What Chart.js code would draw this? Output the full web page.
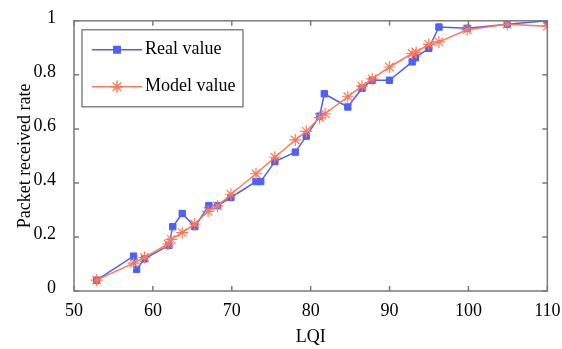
<!DOCTYPE html>
<html>
<head>
<meta charset="utf-8">
<script src="https://cdn.jsdelivr.net/npm/chart.js@4/dist/chart.umd.min.js"></script>
<style>
html, body { margin: 0; padding: 0; background: #fff; }
#wrap { width: 562px; height: 349px; }
</style>
</head>
<body>
<div id="wrap"><canvas id="myChart" width="562" height="349"></canvas></div>
<script>
// real measured values
var realX = [52.87, 57.55, 57.94, 58.94, 62.03, 62.52, 63.72, 65.31, 67.1, 68.2, 69.89, 73.07, 73.67, 75.46, 78.05, 79.44, 81.13, 81.73, 84.71, 86.51, 87.8, 89.99, 92.87, 93.27, 94.97, 96.26, 99.84, 104.92, 110];
var realY = [0.04, 0.129, 0.08, 0.119, 0.169, 0.238, 0.287, 0.238, 0.316, 0.316, 0.346, 0.405, 0.405, 0.479, 0.514, 0.573, 0.647, 0.73, 0.681, 0.75, 0.78, 0.78, 0.848, 0.863, 0.898, 0.977, 0.972, 0.987, 1.0];

// model values
var modelX = [52.87, 57.55, 58.94, 61.93, 62.33, 63.72, 65.31, 67.0, 68.2, 69.89, 73.07, 75.46, 78.05, 79.44, 81.13, 81.83, 84.71, 86.51, 87.8, 89.99, 92.87, 93.37, 94.97, 96.26, 99.84, 104.92, 110];
var modelY = [0.04, 0.103, 0.124, 0.174, 0.191, 0.216, 0.248, 0.295, 0.315, 0.358, 0.434, 0.495, 0.559, 0.591, 0.642, 0.656, 0.719, 0.758, 0.785, 0.829, 0.879, 0.883, 0.913, 0.922, 0.967, 0.987, 0.98];

var seriesNames = ["Real value", "Model value"];
var xTicks = [50, 60, 70, 80, 90, 100, 110];
var yTicks = [0, 0.2, 0.4, 0.6, 0.8, 1];

var blue = '#4d61f6';
var orange = '#ff7759';
var fontFam = '"Liberation Serif", "Times New Roman", serif';

function toPoints(xs, ys) {
    var pts = [];
    for (var i = 0; i < xs.length; i++) {
        pts.push({x: xs[i], y: ys[i]});
    }
    return pts;
}

// frame, inward ticks and boxed legend
var framePlugin = {
    id: 'frame',
    afterDraw: function(chart) {
        var ctx = chart.ctx;
        var a = chart.chartArea;
        var xs = chart.scales.x, ys = chart.scales.y;
        ctx.save();
        ctx.strokeStyle = '#7a7a7a';
        ctx.lineWidth = 1.5;
        ctx.strokeRect(a.left, a.top, a.right - a.left, a.bottom - a.top);
        ctx.beginPath();
        xTicks.forEach(function(v) {
            var px = xs.getPixelForValue(v);
            ctx.moveTo(px, a.bottom); ctx.lineTo(px, a.bottom - 5);
            ctx.moveTo(px, a.top); ctx.lineTo(px, a.top + 5);
        });
        yTicks.forEach(function(v) {
            var py = ys.getPixelForValue(v);
            ctx.moveTo(a.left, py); ctx.lineTo(a.left + 5, py);
            ctx.moveTo(a.right, py); ctx.lineTo(a.right - 5, py);
        });
        ctx.stroke();

        // legend box
        var lx = a.left + 8, ly = a.top + 9, lw = 161, lh = 77;
        ctx.fillStyle = '#fff';
        ctx.fillRect(lx, ly, lw, lh);
        ctx.strokeStyle = '#666';
        ctx.lineWidth = 1.2;
        ctx.strokeRect(lx, ly, lw, lh);
        var colors = [blue, orange];
        var styles = ['rect', 'star'];
        var rows = [ly + 20, ly + 57];
        for (var i = 0; i < 2; i++) {
            ctx.strokeStyle = colors[i];
            ctx.lineWidth = 1.5;
            ctx.beginPath();
            ctx.moveTo(lx + 10, rows[i]);
            ctx.lineTo(lx + 60, rows[i]);
            ctx.stroke();
            ctx.fillStyle = colors[i];
            Chart.helpers.drawPoint(ctx, {pointStyle: styles[i], radius: i == 0 ? 4.5 : 6, borderWidth: 1.2, rotation: 0}, lx + 35, rows[i]);
            ctx.fillStyle = '#000';
            ctx.font = '18px ' + fontFam;
            ctx.textBaseline = 'middle';
            ctx.fillText(seriesNames[i], lx + 63, rows[i] - 1);
        }
        ctx.restore();
    }
};

var myChart = new Chart('myChart', {
    type: 'line',
    data: {
        datasets: [{
            label: seriesNames[0],
            data: toPoints(realX, realY),
            borderColor: blue,
            backgroundColor: blue,
            borderWidth: 1.5,
            pointStyle: 'rect',
            pointRadius: 4.5,
            pointBorderWidth: 1,
            order: 2
        }, {
            label: seriesNames[1],
            data: toPoints(modelX, modelY),
            borderColor: orange,
            backgroundColor: orange,
            borderWidth: 1.5,
            pointStyle: 'star',
            pointRadius: 6,
            pointBorderWidth: 1.2,
            order: 1
        }]
    },
    options: {
        responsive: false,
        animation: false,
        layout: { padding: { top: 16, right: 13.5, left: 0, bottom: 0 } },
        plugins: { legend: { display: false }, tooltip: { enabled: false } },
        scales: {
            x: {
                type: 'linear',
                min: 50, max: 110,
                afterBuildTicks: function(scale) {
                    scale.ticks = xTicks.map(function(v) { return {value: v}; });
                },
                afterFit: function(scale) { scale.height = 58; },
                grid: { display: false },
                border: { display: false },
                ticks: { color: '#000', font: { family: fontFam, size: 18 }, padding: 1.5, maxRotation: 0 },
                title: { display: true, text: 'LQI', color: '#000', font: { family: fontFam, size: 18 }, padding: { top: 0, bottom: 1 } }
            },
            y: {
                type: 'linear',
                min: 0, max: 1,
                afterBuildTicks: function(scale) {
                    scale.ticks = yTicks.map(function(v) { return {value: v}; });
                },
                afterFit: function(scale) { scale.width = 74; },
                grid: { display: false },
                border: { display: false },
                ticks: {
                    color: '#000', font: { family: fontFam, size: 18 }, padding: 10, labelOffset: -3,
                    callback: function(v) { return String(Math.round(v * 10) / 10); }
                },
                title: { display: true, text: 'Packet received rate', color: '#000', font: { family: fontFam, size: 18 }, padding: { top: 14, bottom: 0 } }
            }
        }
    },
    plugins: [framePlugin]
});
</script>
</body>
</html>
